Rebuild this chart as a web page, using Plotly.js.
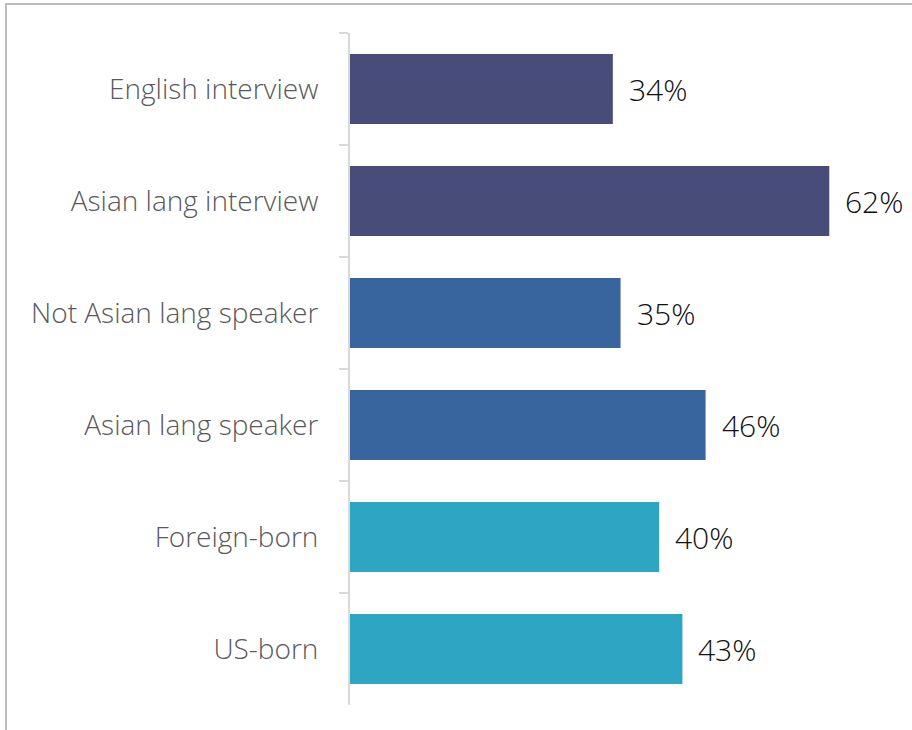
<!DOCTYPE html>
<html><head><meta charset="utf-8">
<script src="https://cdn.plot.ly/plotly-3.0.1.min.js"></script>
<style>
html,body{margin:0;padding:0;background:#fff;}
#frame{position:absolute;left:5px;top:3px;width:907px;height:727px;border-top:2px solid #bdbdbd;border-left:2px solid #bdbdbd;box-sizing:border-box;}
#chart{position:absolute;left:0;top:0;width:912px;height:730px;}
</style></head>
<body>
<div id="frame"></div>
<div id="chart"></div>
<script>
const categories = ["English interview","Asian lang interview","Not Asian lang speaker","Asian lang speaker","Foreign-born","US-born"];
const values = [34,62,35,46,40,43];
const labels = ["34%","62%","35%","46%","40%","43%"];
const colors = ["#474c78","#474c78","#38659e","#38659e","#2ea5c2","#2ea5c2"];

const trace = {
  type:"bar", orientation:"h",
  y:categories, x:values,
  marker:{color:colors},
  hoverinfo:"none"
};
const annotations = values.map((v,i)=>({
  x:v, y:categories[i], xref:"x", yref:"y",
  text:labels[i], showarrow:false, xanchor:"left", xshift:14,
  font:{family:"Open Sans", size:30, color:"#111111", weight:300}
}));
const layout = {
  width:912, height:730,
  margin:{l:350, r:0, t:33, b:25},
  paper_bgcolor:"rgba(0,0,0,0)", plot_bgcolor:"rgba(0,0,0,0)",
  bargap:0.375,
  showlegend:false,
  xaxis:{range:[0,72.7], visible:false, fixedrange:true},
  yaxis:{autorange:"reversed", showline:true, linecolor:"#d9d9d9", linewidth:2,
    ticks:"outside", ticklen:9, tickwidth:2, tickcolor:"#d9d9d9", tickson:"boundaries",
    showgrid:false, zeroline:false, ticklabelstandoff:24,
    tickfont:{family:"Open Sans", size:28, color:"#595959", weight:300}},
  annotations:annotations
};
Plotly.newPlot("chart",[trace],layout,{staticPlot:true, displayModeBar:false});
</script>
</body></html>
